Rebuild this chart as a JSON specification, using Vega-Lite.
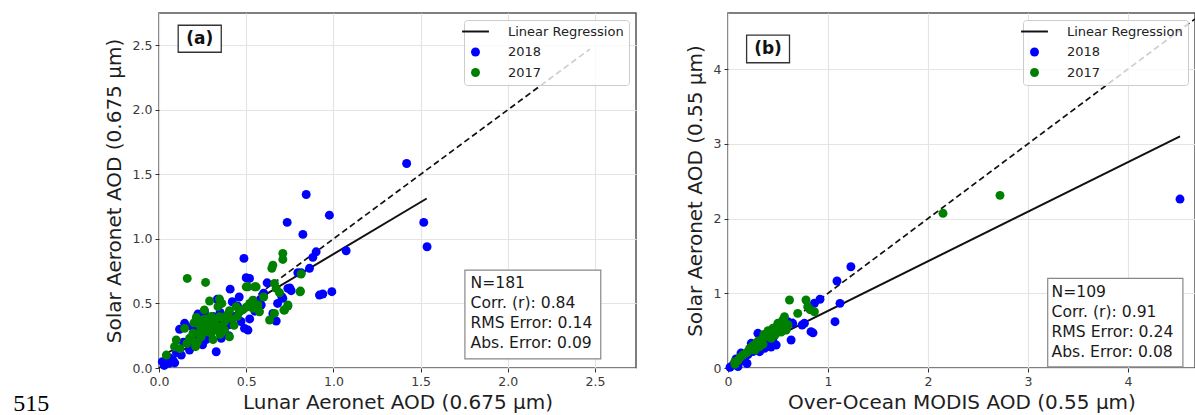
{
  "$schema": "https://vega.github.io/schema/vega-lite/v6.json",
  "padding": {"left": 13, "top": 12, "right": 0, "bottom": 0},
  "background": "white",
  "title": {"text": "515", "orient": "bottom", "anchor": "start", "frame": "bounds", "font": "Liberation Serif", "fontSize": 24, "fontWeight": "normal", "color": "black", "baseline": "alphabetic", "offset": -2, "dx": -90},
  "config": {
    "font": "DejaVu Sans",
    "view": {"stroke": "#555555", "strokeWidth": 1.5},
    "axis": {
      "labelFont": "DejaVu Sans", "labelFontSize": 12.5, "labelColor": "#3a3a3a",
      "titleFont": "DejaVu Sans", "titleFontSize": 20, "titleFontWeight": "normal", "titleColor": "#1e1e1e",
      "tickColor": "#333333", "tickSize": 4, "labelPadding": 3,
      "gridColor": "#e4e4e4", "gridWidth": 1.2, "domain": false, "labelFlush": false
    },
    "axisX": {"titlePadding": 5},
    "axisY": {"titlePadding": 8},
    "legend": {
      "title": null, "orient": "top-right", "offset": 7, "padding": 5,
      "fillColor": "rgba(255,255,255,0.8)", "strokeColor": "#cccccc", "cornerRadius": 3,
      "labelFont": "DejaVu Sans", "labelFontSize": 13, "labelColor": "#222222",
      "symbolSize": 80, "labelOffset": 26, "rowPadding": 6.5
    }
  },
  "resolve": {"scale": {"color": "independent", "shape": "independent"}, "legend": {"color": "independent", "shape": "independent"}},
  "spacing": 47,
  "datasets": {
    "a": [
      {"s":"2018","x":1.42,"y":1.584},{"s":"2018","x":0.844,"y":1.344},{"s":"2018","x":0.977,"y":1.184},{"s":"2018","x":0.735,"y":1.128},
      {"s":"2018","x":0.825,"y":1.035},{"s":"2018","x":1.518,"y":1.128},{"s":"2018","x":1.537,"y":0.939},{"s":"2018","x":1.073,"y":0.908},
      {"s":"2018","x":0.901,"y":0.9},{"s":"2018","x":0.882,"y":0.857},{"s":"2018","x":0.863,"y":0.772},{"s":"2018","x":0.796,"y":0.738},
      {"s":"2018","x":0.991,"y":0.591},{"s":"2018","x":0.939,"y":0.573},{"s":"2018","x":0.92,"y":0.565},{"s":"2018","x":0.487,"y":0.849},
      {"s":"2018","x":0.519,"y":0.694},{"s":"2018","x":0.739,"y":0.617},{"s":"2018","x":0.758,"y":0.599},{"s":"2018","x":0.704,"y":0.552},
      {"s":"2018","x":0.653,"y":0.423},{"s":"2018","x":0.408,"y":0.611},{"s":"2018","x":0.334,"y":0.532},{"s":"2018","x":0.42,"y":0.513},
      {"s":"2018","x":0.223,"y":0.418},{"s":"2018","x":0.118,"y":0.3},{"s":"2018","x":0.328,"y":0.126},{"s":"2018","x":0.057,"y":0.036},
      {"s":"2018","x":0.019,"y":0.049},{"s":"2018","x":0.128,"y":0.1},{"s":"2018","x":0.175,"y":0.139},{"s":"2018","x":0.166,"y":0.191},
      {"s":"2018","x":0.261,"y":0.436},{"s":"2018","x":0.395,"y":0.333},{"s":"2018","x":0.49,"y":0.307},{"s":"2018","x":0.51,"y":0.294},
      {"s":"2018","x":0.357,"y":0.23},{"s":"2018","x":0.223,"y":0.358},{"s":"2018","x":0.147,"y":0.346},{"s":"2018","x":0.586,"y":0.488},
      {"s":"2018","x":0.672,"y":0.364},{"s":"2018","x":0.71,"y":0.54},{"s":"2018","x":0.5,"y":0.699},{"s":"2018","x":0.815,"y":0.738},
      {"s":"2018","x":0.03,"y":0.02},{"s":"2018","x":0.08,"y":0.06},{"s":"2018","x":0.1,"y":0.12},{"s":"2018","x":0.14,"y":0.2},
      {"s":"2018","x":0.2,"y":0.25},{"s":"2018","x":0.22,"y":0.3},{"s":"2018","x":0.27,"y":0.22},{"s":"2018","x":0.3,"y":0.3},
      {"s":"2018","x":0.31,"y":0.4},{"s":"2018","x":0.35,"y":0.43},{"s":"2018","x":0.38,"y":0.38},{"s":"2018","x":0.44,"y":0.4},
      {"s":"2018","x":0.45,"y":0.48},{"s":"2018","x":0.47,"y":0.36},{"s":"2018","x":0.54,"y":0.5},{"s":"2018","x":0.55,"y":0.44},
      {"s":"2018","x":0.6,"y":0.58},{"s":"2018","x":0.62,"y":0.66},{"s":"2018","x":0.46,"y":0.55},{"s":"2018","x":0.25,"y":0.18},
      {"s":"2018","x":0.06,"y":0.08},{"s":"2018","x":0.09,"y":0.04},{"s":"2018","x":0.4,"y":0.25},{"s":"2018","x":0.29,"y":0.35},
      {"s":"2018","x":0.19,"y":0.32},{"s":"2018","x":0.68,"y":0.5},{"s":"2018","x":0.75,"y":0.62},{"s":"2018","x":0.58,"y":0.53},
      {"s":"2018","x":0.52,"y":0.38},
      {"s":"2017","x":0.71,"y":0.888},{"s":"2017","x":0.71,"y":0.841},{"s":"2017","x":0.653,"y":0.797},{"s":"2017","x":0.647,"y":0.772},
      {"s":"2017","x":0.815,"y":0.728},{"s":"2017","x":0.811,"y":0.596},{"s":"2017","x":0.662,"y":0.655},{"s":"2017","x":0.672,"y":0.617},
      {"s":"2017","x":0.691,"y":0.583},{"s":"2017","x":0.51,"y":0.629},{"s":"2017","x":0.548,"y":0.629},{"s":"2017","x":0.739,"y":0.488},
      {"s":"2017","x":0.716,"y":0.449},{"s":"2017","x":0.662,"y":0.423},{"s":"2017","x":0.567,"y":0.488},{"s":"2017","x":0.538,"y":0.526},
      {"s":"2017","x":0.162,"y":0.694},{"s":"2017","x":0.267,"y":0.663},{"s":"2017","x":0.29,"y":0.519},{"s":"2017","x":0.338,"y":0.475},
      {"s":"2017","x":0.347,"y":0.534},{"s":"2017","x":0.042,"y":0.1},{"s":"2017","x":0.089,"y":0.165},{"s":"2017","x":0.099,"y":0.217},
      {"s":"2017","x":0.147,"y":0.307},{"s":"2017","x":0.195,"y":0.269},{"s":"2017","x":0.191,"y":0.217},{"s":"2017","x":0.21,"y":0.165},
      {"s":"2017","x":0.233,"y":0.333},{"s":"2017","x":0.252,"y":0.372},{"s":"2017","x":0.29,"y":0.358},{"s":"2017","x":0.318,"y":0.333},
      {"s":"2017","x":0.271,"y":0.281},{"s":"2017","x":0.242,"y":0.242},{"s":"2017","x":0.214,"y":0.392},{"s":"2017","x":0.347,"y":0.397},
      {"s":"2017","x":0.376,"y":0.358},{"s":"2017","x":0.404,"y":0.444},{"s":"2017","x":0.443,"y":0.475},{"s":"2017","x":0.462,"y":0.436},
      {"s":"2017","x":0.376,"y":0.294},{"s":"2017","x":0.404,"y":0.242},{"s":"2017","x":0.175,"y":0.23},{"s":"2017","x":0.538,"y":0.462},
      {"s":"2017","x":0.576,"y":0.436},{"s":"2017","x":0.634,"y":0.372},{"s":"2017","x":0.72,"y":0.449},{"s":"2017","x":0.739,"y":0.48},
      {"s":"2017","x":0.5,"y":0.629},{"s":"2017","x":0.557,"y":0.629},{"s":"2017","x":0.809,"y":0.59},{"s":"2017","x":0.28,"y":0.3},
      {"s":"2017","x":0.3,"y":0.27},{"s":"2017","x":0.32,"y":0.36},{"s":"2017","x":0.26,"y":0.31},{"s":"2017","x":0.23,"y":0.27},
      {"s":"2017","x":0.36,"y":0.32},{"s":"2017","x":0.34,"y":0.29},{"s":"2017","x":0.42,"y":0.38},{"s":"2017","x":0.45,"y":0.4},
      {"s":"2017","x":0.48,"y":0.45},{"s":"2017","x":0.5,"y":0.47},{"s":"2017","x":0.3,"y":0.4},{"s":"2017","x":0.27,"y":0.38},
      {"s":"2017","x":0.22,"y":0.2},{"s":"2017","x":0.16,"y":0.19},{"s":"2017","x":0.12,"y":0.15},{"s":"2017","x":0.2,"y":0.35},
      {"s":"2017","x":0.26,"y":0.45},{"s":"2017","x":0.36,"y":0.5},{"s":"2017","x":0.52,"y":0.5},{"s":"2017","x":0.6,"y":0.55},
      {"s":"2017","x":0.43,"y":0.33},{"s":"2017","x":0.39,"y":0.41},{"s":"2017","x":0.31,"y":0.22},{"s":"2017","x":0.35,"y":0.26}
    ],
    "b": [
      {"s":"2018","x":4.52,"y":2.26},{"s":"2018","x":1.229,"y":1.355},{"s":"2018","x":1.09,"y":1.164},{"s":"2018","x":1.12,"y":0.865},
      {"s":"2018","x":1.07,"y":0.62},{"s":"2018","x":0.92,"y":0.92},{"s":"2018","x":0.864,"y":0.866},{"s":"2018","x":0.764,"y":0.598},
      {"s":"2018","x":0.83,"y":0.486},{"s":"2018","x":0.85,"y":0.47},{"s":"2018","x":0.631,"y":0.375},{"s":"2018","x":0.482,"y":0.308},
      {"s":"2018","x":0.366,"y":0.263},{"s":"2018","x":0.316,"y":0.218},{"s":"2018","x":0.233,"y":0.33},{"s":"2018","x":0.299,"y":0.464},
      {"s":"2018","x":0.166,"y":0.13},{"s":"2018","x":0.117,"y":0.084},{"s":"2018","x":0.05,"y":0.04},{"s":"2018","x":0.647,"y":0.598},
      {"s":"2018","x":0.448,"y":0.375},{"s":"2018","x":0.741,"y":0.575},{"s":"2018","x":0.1,"y":0.02},{"s":"2018","x":0.19,"y":0.06},
      {"s":"2018","x":0.2,"y":0.18},{"s":"2018","x":0.25,"y":0.22},{"s":"2018","x":0.4,"y":0.33},{"s":"2018","x":0.55,"y":0.5},
      {"s":"2018","x":0.43,"y":0.28},{"s":"2018","x":0.35,"y":0.38},{"s":"2018","x":0.13,"y":0.2},{"s":"2018","x":0.08,"y":0.12},
      {"s":"2018","x":0.28,"y":0.27},{"s":"2018","x":0.6,"y":0.62},{"s":"2018","x":0.02,"y":0.01},
      {"s":"2017","x":2.15,"y":2.07},{"s":"2017","x":2.72,"y":2.31},{"s":"2017","x":0.615,"y":0.91},{"s":"2017","x":0.78,"y":0.91},
      {"s":"2017","x":0.797,"y":0.82},{"s":"2017","x":0.864,"y":0.753},{"s":"2017","x":0.697,"y":0.731},{"s":"2017","x":0.565,"y":0.687},
      {"s":"2017","x":0.498,"y":0.575},{"s":"2017","x":0.067,"y":0.084},{"s":"2017","x":0.149,"y":0.174},{"s":"2017","x":0.216,"y":0.263},
      {"s":"2017","x":0.283,"y":0.33},{"s":"2017","x":0.349,"y":0.397},{"s":"2017","x":0.398,"y":0.464},{"s":"2017","x":0.448,"y":0.531},
      {"s":"2017","x":0.498,"y":0.598},{"s":"2017","x":0.548,"y":0.642},{"s":"2017","x":0.582,"y":0.508},{"s":"2017","x":0.432,"y":0.397},
      {"s":"2017","x":0.316,"y":0.285},{"s":"2017","x":0.1,"y":0.1},{"s":"2017","x":0.12,"y":0.14},{"s":"2017","x":0.18,"y":0.2},
      {"s":"2017","x":0.25,"y":0.3},{"s":"2017","x":0.3,"y":0.36},{"s":"2017","x":0.38,"y":0.42},{"s":"2017","x":0.42,"y":0.48},
      {"s":"2017","x":0.46,"y":0.5},{"s":"2017","x":0.52,"y":0.55},{"s":"2017","x":0.57,"y":0.6},{"s":"2017","x":0.35,"y":0.32},
      {"s":"2017","x":0.27,"y":0.24},{"s":"2017","x":0.2,"y":0.22},{"s":"2017","x":0.4,"y":0.5},{"s":"2017","x":0.47,"y":0.44},
      {"s":"2017","x":0.53,"y":0.48},{"s":"2017","x":0.07,"y":0.05},{"s":"2017","x":0.36,"y":0.45},{"s":"2017","x":0.6,"y":0.58},
      {"s":"2017","x":0.82,"y":0.78}
    ]
  },
  "hconcat": [
    {
      "width": 477, "height": 355,
      "layer": [
        {"data": {"values": [{"x": 0, "y": 0}, {"x": 2.47, "y": 2.47}]},
         "mark": {"type": "line", "color": "#111111", "strokeWidth": 1.7, "strokeDash": [6, 3.5]},
         "encoding": {
           "x": {"field": "x", "type": "quantitative", "scale": {"domain": [0, 2.735], "nice": false},
                 "axis": {"title": "Lunar Aeronet AOD (0.675 µm)", "values": [0, 0.5, 1, 1.5, 2, 2.5], "format": ".1f"}},
           "y": {"field": "y", "type": "quantitative", "scale": {"domain": [0, 2.75], "nice": false},
                 "axis": {"title": "Solar Aeronet AOD (0.675 µm)", "values": [0, 0.5, 1, 1.5, 2, 2.5], "format": ".1f"}}}},
        {"data": {"values": [{"x": 0.02, "y": 0.093}, {"x": 1.535, "y": 1.313}]},
         "mark": {"type": "line", "color": "#111111", "strokeWidth": 2},
         "encoding": {"x": {"field": "x", "type": "quantitative"}, "y": {"field": "y", "type": "quantitative"}}},
        {"data": {"name": "a"},
         "mark": {"type": "point", "filled": true, "size": 80, "opacity": 1},
         "encoding": {
           "x": {"field": "x", "type": "quantitative"}, "y": {"field": "y", "type": "quantitative"},
           "color": {"field": "s", "type": "nominal",
             "scale": {"domain": ["Linear Regression", "2018", "2017"], "range": ["#111111", "#0000ff", "#008000"]},
             "legend": {"title": null}},
           "shape": {"field": "s", "type": "nominal",
             "scale": {"domain": ["Linear Regression", "2018", "2017"], "range": ["M-3,-0.22H3V0.22H-3Z", "circle", "circle"]},
             "legend": {"title": null}}
         }},
        {"data": {"values": [{"t": "(a)"}]},
         "mark": {"type": "rect", "fill": "white", "stroke": "#333333", "strokeWidth": 1.3},
         "encoding": {"x": {"datum": 0.11, "type": "quantitative"}, "x2": {"datum": 0.357},
                      "y": {"datum": 2.446, "type": "quantitative"}, "y2": {"datum": 2.655}}},
        {"data": {"values": [{"t": "(a)"}]},
         "mark": {"type": "text", "font": "DejaVu Sans", "fontWeight": "bold", "fontSize": 17, "color": "#111111", "align": "center", "baseline": "middle"},
         "encoding": {"text": {"field": "t"}, "x": {"datum": 0.234, "type": "quantitative"}, "y": {"datum": 2.55, "type": "quantitative"}}},
        {"data": {"values": [{"t": "N=181"}]},
         "mark": {"type": "rect", "fill": "white", "stroke": "#888888", "strokeWidth": 1.2},
         "encoding": {"x": {"datum": 1.754, "type": "quantitative"}, "x2": {"datum": 2.533},
                      "y": {"datum": 0.07, "type": "quantitative"}, "y2": {"datum": 0.758}}},
        {"data": {"values": [{"t": ["N=181", "Corr. (r): 0.84", "RMS Error: 0.14", "Abs. Error: 0.09"]}]},
         "mark": {"type": "text", "font": "DejaVu Sans", "fontSize": 15.6, "lineHeight": 19.8, "color": "#1a1a1a", "align": "left", "baseline": "top"},
         "encoding": {"text": {"field": "t"}, "x": {"datum": 1.786, "type": "quantitative"}, "y": {"datum": 0.71, "type": "quantitative"}}}
      ]
    },
    {
      "width": 467, "height": 355,
      "layer": [
        {"data": {"values": [{"x": 0, "y": 0}, {"x": 4.67, "y": 4.67}]},
         "mark": {"type": "line", "color": "#111111", "strokeWidth": 1.7, "strokeDash": [6, 3.5]},
         "encoding": {
           "x": {"field": "x", "type": "quantitative", "scale": {"domain": [0, 4.67], "nice": false},
                 "axis": {"title": "Over-Ocean MODIS AOD (0.55 µm)", "values": [0, 1, 2, 3, 4], "format": "d"}},
           "y": {"field": "y", "type": "quantitative", "scale": {"domain": [0, 4.75], "nice": false},
                 "axis": {"title": "Solar Aeronet AOD (0.55 µm)", "values": [0, 1, 2, 3, 4], "format": "d"}}}},
        {"data": {"values": [{"x": 0.05, "y": 0.135}, {"x": 4.52, "y": 3.1}]},
         "mark": {"type": "line", "color": "#111111", "strokeWidth": 2},
         "encoding": {"x": {"field": "x", "type": "quantitative"}, "y": {"field": "y", "type": "quantitative"}}},
        {"data": {"name": "b"},
         "mark": {"type": "point", "filled": true, "size": 80, "opacity": 1},
         "encoding": {
           "x": {"field": "x", "type": "quantitative"}, "y": {"field": "y", "type": "quantitative"},
           "color": {"field": "s", "type": "nominal",
             "scale": {"domain": ["Linear Regression", "2018", "2017"], "range": ["#111111", "#0000ff", "#008000"]},
             "legend": {"title": null}},
           "shape": {"field": "s", "type": "nominal",
             "scale": {"domain": ["Linear Regression", "2018", "2017"], "range": ["M-3,-0.22H3V0.22H-3Z", "circle", "circle"]},
             "legend": {"title": null}}
         }},
        {"data": {"values": [{"t": "(b)"}]},
         "mark": {"type": "rect", "fill": "white", "stroke": "#333333", "strokeWidth": 1.3},
         "encoding": {"x": {"datum": 0.186, "type": "quantitative"}, "x2": {"datum": 0.615},
                      "y": {"datum": 4.084, "type": "quantitative"}, "y2": {"datum": 4.455}}},
        {"data": {"values": [{"t": "(b)"}]},
         "mark": {"type": "text", "font": "DejaVu Sans", "fontWeight": "bold", "fontSize": 17, "color": "#111111", "align": "center", "baseline": "middle"},
         "encoding": {"text": {"field": "t"}, "x": {"datum": 0.40, "type": "quantitative"}, "y": {"datum": 4.27, "type": "quantitative"}}},
        {"data": {"values": [{"t": "N=109"}]},
         "mark": {"type": "rect", "fill": "white", "stroke": "#888888", "strokeWidth": 1.2},
         "encoding": {"x": {"datum": 3.197, "type": "quantitative"}, "x2": {"datum": 4.549},
                      "y": {"datum": 0.017, "type": "quantitative"}, "y2": {"datum": 1.2}}},
        {"data": {"values": [{"t": ["N=109", "Corr. (r): 0.91", "RMS Error: 0.24", "Abs. Error: 0.08"]}]},
         "mark": {"type": "text", "font": "DejaVu Sans", "fontSize": 15.6, "lineHeight": 19.8, "color": "#1a1a1a", "align": "left", "baseline": "top"},
         "encoding": {"text": {"field": "t"}, "x": {"datum": 3.235, "type": "quantitative"}, "y": {"datum": 1.105, "type": "quantitative"}}}
      ]
    }
  ]
}
